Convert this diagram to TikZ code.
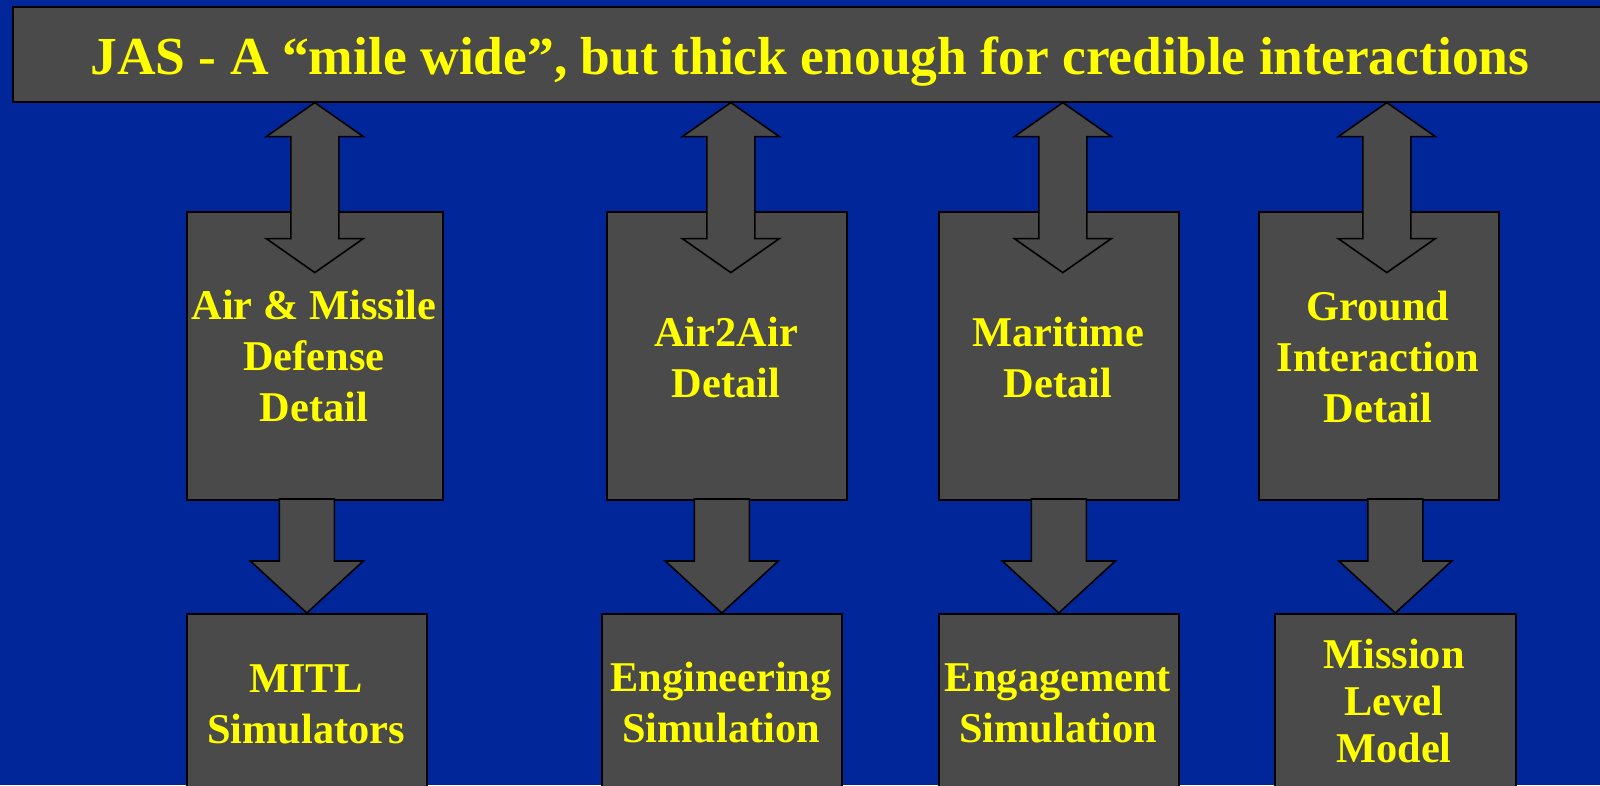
\documentclass[tikz,border=0pt]{standalone}
\usepackage{fontspec}
\setmainfont{Liberation Serif}
\usetikzlibrary{calc}
\definecolor{bgblue}{RGB}{0,38,153}
\definecolor{boxgray}{RGB}{74,74,74}
\definecolor{ylw}{RGB}{255,255,0}
\tikzset{
  box/.style={draw=black, line width=1.6pt, fill=boxgray, rectangle, inner sep=0pt, anchor=north west, minimum height=#1},
  box/.default=288pt,
  blockarrow/.style={draw=black, line width=1.6pt, fill=boxgray, line join=miter},
  lbl/.style={text=ylw, font=\bfseries\fontsize{42.4}{51}\selectfont, align=center, anchor=base, inner sep=0pt},
}
\newcommand\dblarrow[1]{%
  \draw[blockarrow] (#1) -- ++(48.5,34) -- ++(-24.5,0) -- ++(0,102) -- ++(24.5,0)
    -- ++(-48.5,34) -- ++(-48.5,-34) -- ++(24.5,0) -- ++(0,-102) -- ++(-24.5,0) -- cycle;}
\newcommand\dnarrow[1]{%
  \draw[blockarrow] (#1) -- ++(56.5,-52) -- ++(-29,0) -- ++(0,-62) -- ++(-55,0)
    -- ++(0,62) -- ++(-29,0) -- cycle;}
\begin{document}
\begin{tikzpicture}[x=1pt,y=-1pt]
\useasboundingbox (0,0) rectangle (1600,785);
\fill[bgblue] (0,0) rectangle (1600,785);
% detail boxes
\node[box, minimum width=256pt] (a1) at (186,211) {};
\node[box, minimum width=240pt] (a2) at (606,211) {};
\node[box, minimum width=240pt] (a3) at (938,211) {};
\node[box, minimum width=240pt] (a4) at (1258,211) {};
% bottom boxes
\node[box=200pt, minimum width=240pt] (b1) at (186,613) {};
\node[box=200pt, minimum width=240pt] (b2) at (601,613) {};
\node[box=200pt, minimum width=240pt] (b3) at (938,613) {};
\node[box=200pt, minimum width=241pt] (b4) at (1274,613) {};
% title
\node[box=95pt, minimum width=1600pt] (title) at (12,6) {};
% arrows
\dblarrow{title.south -| a1.north}
\dblarrow{$(title.south -| a2.north)+(4,0)$}
\dblarrow{$(title.south -| a3.north)+(4,0)$}
\dblarrow{$(title.south -| a4.north)+(8,0)$}
\dnarrow{b1.north}
\dnarrow{b2.north}
\dnarrow{b3.north}
\dnarrow{b4.north}
% texts (base anchor = last line baseline)
\node[lbl, font=\bfseries\fontsize{53.5}{60}\selectfont] (tt) at (810,74) {JAS - A “mile wide”, but thick enough for credible interactions};
\node[lbl] (ta1) at (314,421) {Air \& Missile\\Defense\\Detail};
\node[lbl] (ta2) at (726,397) {Air2Air\\Detail};
\node[lbl] (ta3) at (1058,397) {Maritime\\Detail};
\node[lbl] (ta4) at (1378,422) {Ground\\Interaction\\Detail};
\node[lbl] (tb1) at (306,743) {MITL\\Simulators};
\node[lbl] (tb2) at (721,742) {Engineering\\Simulation};
\node[lbl] (tb3) at (1058,742) {Engagement\\Simulation};
\node[lbl, font=\bfseries\fontsize{42.4}{47}\selectfont] (tb4) at (1394,762) {Mission\\Level\\Model};
\end{tikzpicture}
\end{document}
